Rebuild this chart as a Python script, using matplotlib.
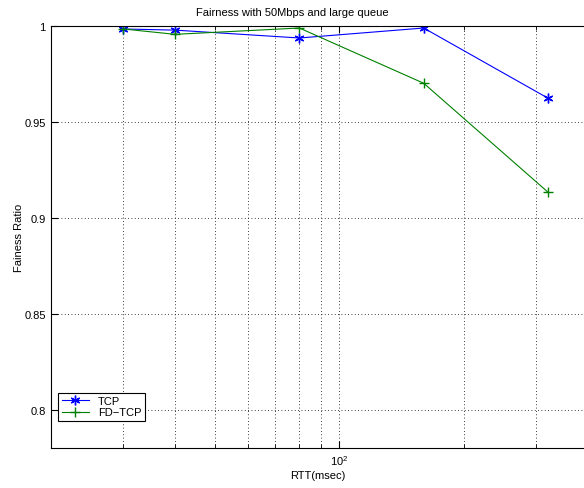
import matplotlib
matplotlib.use("Agg")
import matplotlib.pyplot as plt
from matplotlib.ticker import NullFormatter, FixedLocator

plt.rcParams["font.family"] = ["Liberation Sans", "DejaVu Sans"]

rtt = [30, 40, 80, 160, 320]
tcp = [0.9986, 0.998, 0.9939, 0.9991, 0.9625]
fdtcp = [0.9986, 0.9958, 0.9991, 0.9703, 0.9135]

fig = plt.figure(figsize=(5.84, 4.89), dpi=100)
ax = fig.add_axes([0.0868, 0.0812, 0.9132, 0.863])

# matlab style '*' (asterisk) and '+'
ax.plot(rtt, tcp, color="#0000ff", marker=(6, 2, 0), markersize=7, lw=0.8,
        mew=1.0, label="TCP")
ax.plot(rtt, fdtcp, color="#008000", marker="+", markersize=7, lw=0.8,
        mew=1.0, label="FD\u2212TCP")

ax.set_xscale("log")
ax.set_xlim(20, 391)
ax.set_ylim(0.78, 1.0)
ax.xaxis.set_major_locator(FixedLocator([100]))
ax.xaxis.set_minor_locator(FixedLocator([30, 40, 50, 60, 70, 80, 90, 200, 300]))
ax.xaxis.set_minor_formatter(NullFormatter())
ax.set_yticks([0.8, 0.85, 0.9, 0.95, 1.0])
ax.set_yticklabels(["0.8", "0.85", "0.9", "0.95", "1"])

ax.tick_params(which="both", direction="in", top=True, right=False,
               labelsize=8)
ax.tick_params(which="major", length=5)
ax.tick_params(which="minor", length=3)
ax.spines["right"].set_visible(False)

ax.grid(True, which="both", axis="x", ls=(0, (1, 3)), color="k", lw=0.6)
ax.grid(True, which="major", axis="y", ls=(0, (1, 3)), color="k", lw=0.6)

ax.set_title("Fairness with 50Mbps and large queue", fontsize=8, pad=8,
             x=0.4525)
ax.set_xlabel("RTT(msec)", fontsize=8, labelpad=2)
ax.set_ylabel("Fainess Ratio", fontsize=8, labelpad=0)

leg = ax.legend(loc="lower left", bbox_to_anchor=(0.01, 0.06), fontsize=8,
                fancybox=False, edgecolor="k", framealpha=1,
                handlelength=2.5, borderaxespad=0.2, labelspacing=0.1,
                borderpad=0.3)
leg.get_frame().set_linewidth(0.8)

fig.savefig("out.png", dpi=100)
